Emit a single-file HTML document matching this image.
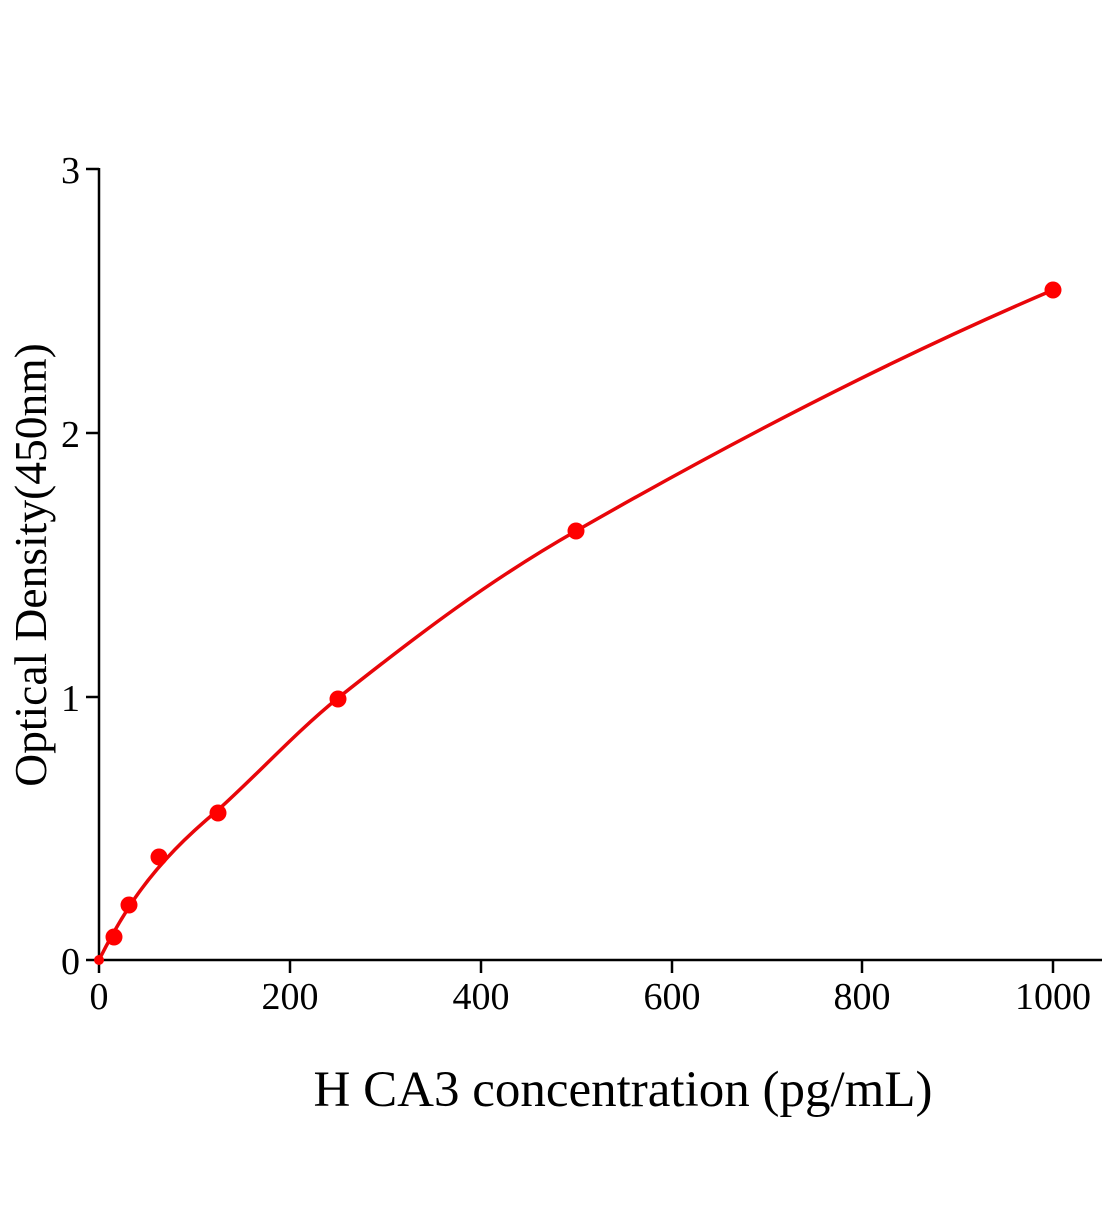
<!DOCTYPE html>
<html><head><meta charset="utf-8"><style>
html,body{margin:0;padding:0;background:#fff;}
</style></head><body>
<svg width="1104" height="1200" viewBox="0 0 1104 1200" xmlns="http://www.w3.org/2000/svg" font-family="Liberation Serif, serif">
<rect width="1104" height="1200" fill="#fff"/>
<g stroke="#000" stroke-width="2.5" fill="none">
<line x1="99" y1="168" x2="99" y2="961"/>
<line x1="98" y1="960" x2="1102" y2="960"/>
<line x1="86" y1="169" x2="99" y2="169"/>
<line x1="86" y1="433" x2="99" y2="433"/>
<line x1="86" y1="697" x2="99" y2="697"/>
<line x1="86" y1="960" x2="99" y2="960"/>
<line x1="99" y1="960" x2="99" y2="973"/>
<line x1="290" y1="960" x2="290" y2="973"/>
<line x1="481" y1="960" x2="481" y2="973"/>
<line x1="672" y1="960" x2="672" y2="973"/>
<line x1="862" y1="960" x2="862" y2="973"/>
<line x1="1053" y1="960" x2="1053" y2="973"/>
</g>
<g font-size="38" fill="#000" text-anchor="end">
<text x="80" y="183">3</text>
<text x="80" y="447">2</text>
<text x="80" y="711">1</text>
<text x="80" y="974">0</text>
</g>
<g font-size="38" fill="#000" text-anchor="middle">
<text x="99" y="1009">0</text>
<text x="290" y="1009">200</text>
<text x="481" y="1009">400</text>
<text x="672" y="1009">600</text>
<text x="862" y="1009">800</text>
<text x="1053" y="1009">1000</text>
</g>
<text x="623" y="1106" font-size="51" text-anchor="middle">H CA3 concentration (pg/mL)</text>
<text transform="translate(46,565) rotate(-90)" font-size="45.5" text-anchor="middle">Optical Density(450nm)</text>
<path fill="none" stroke="#e8060a" stroke-width="3.5" d="M99,960 C108,942 120,920 135,898 C160,862 188,835 218,810 C260,772 295,733 338,698 C420,633 490,580 576,531 C740,437 900,355 1053,290"/>
<g fill="#f00">
<circle cx="114" cy="937" r="8.5"/>
<circle cx="129" cy="905" r="8.5"/>
<circle cx="159" cy="857" r="8.5"/>
<circle cx="218" cy="813" r="8.5"/>
<circle cx="338" cy="699" r="8.5"/>
<circle cx="576" cy="531" r="8.5"/>
<circle cx="1053" cy="290" r="8.5"/>
<circle cx="99" cy="960" r="5"/>
</g>
</svg>
</body></html>
